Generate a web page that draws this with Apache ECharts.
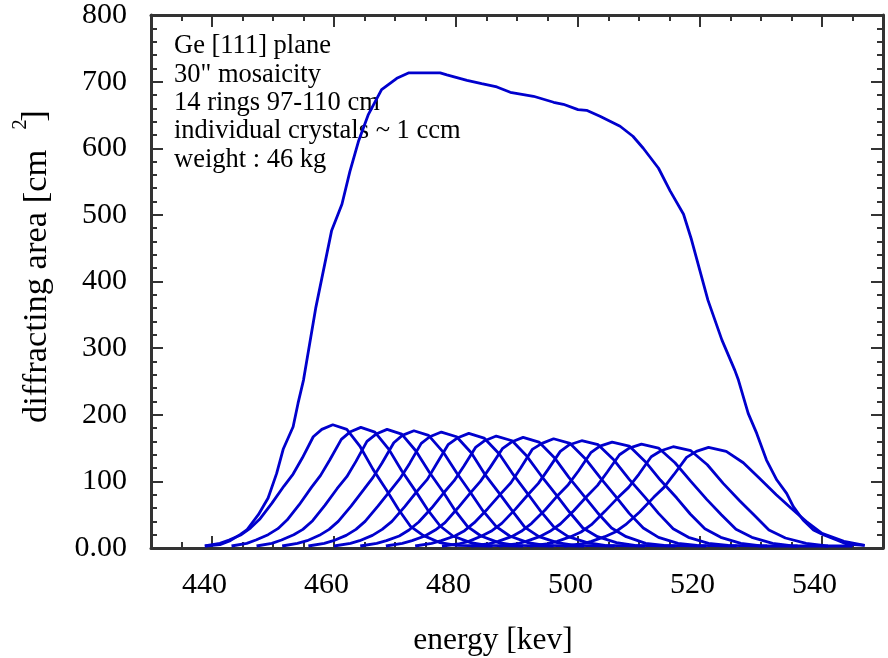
<!DOCTYPE html>
<html>
<head>
<meta charset="utf-8">
<script src="https://cdn.jsdelivr.net/npm/echarts@6/dist/echarts.min.js"></script>
<style>
html,body{margin:0;padding:0;background:#fff;}
#chart{width:888px;height:658px;}
</style>
</head>
<body>
<div id="chart"></div>
<script>
// ---- data: [energy keV, diffracting area cm^2] ----
const totalCurve = [[438.9,3],[441.3,5],[443.0,11],[444.6,20],[445.7,27],[447.6,50],[449.2,75],[450.6,112],[451.7,149],[453.3,182],[454.1,217],[455.0,252],[457.0,360],[459.6,476],[461.3,516],[462.6,565],[464.0,610],[465.6,650],[467.8,688],[470.3,705],[472.2,713],[477.4,713],[478.5,710],[481.8,702],[484.2,697],[486.7,692],[488.9,684],[492.7,678],[496.0,669],[497.6,666],[500.0,658],[501.4,657],[503.6,648],[506.9,633],[509.0,618],[510.7,600],[513.2,570],[515.1,536],[517.3,501],[518.6,463],[521.3,372],[523.6,312],[525.7,267],[526.3,252],[527.9,202],[529.3,172],[530.9,132],[532.6,102],[534.2,82],[535.3,62],[536.9,42],[538.6,27],[540.2,20],[542.4,12],[544.0,6],[545.1,5],[547.0,4]];

const ring01 = [[438.8,3],[441.3,7],[442.8,12],[444.8,20],[446.3,30],[447.8,43],[449.8,67],[451.8,93],[453.3,111],[454.8,135],[456.6,167],[458.0,178],[459.8,185],[462.1,178],[464.3,152],[466.4,118],[468.6,87],[470.5,59],[472.5,33],[474.6,19],[477.4,8],[480.1,4],[486.0,3]];
const ring02 = [[443.2,3],[445.7,7],[447.2,12],[449.2,20],[450.8,29],[452.3,42],[454.3,65],[456.3,91],[457.8,109],[459.3,132],[461.2,163],[462.6,174],[464.4,181],[466.7,174],[469.0,148],[471.1,116],[473.4,85],[475.3,58],[477.4,33],[479.5,18],[482.4,8],[485.1,4],[491.0,3]];
const ring03 = [[447.3,3],[449.8,7],[451.4,12],[453.4,20],[454.9,28],[456.5,41],[458.5,64],[460.5,89],[462.1,107],[463.6,130],[465.4,160],[466.9,171],[468.7,178],[471.1,171],[473.4,146],[475.6,114],[477.9,84],[479.8,57],[481.9,32],[484.1,18],[487.0,8],[489.8,4],[496.0,3]];
const ring04 = [[451.5,3],[454.0,7],[455.6,11],[457.6,19],[459.2,28],[460.7,40],[462.8,63],[464.9,88],[466.4,106],[467.9,128],[469.8,158],[471.2,169],[473.1,176],[475.5,169],[477.9,144],[480.1,113],[482.4,83],[484.4,56],[486.6,32],[488.8,18],[491.8,8],[494.6,4],[501.0,3]];
const ring05 = [[455.8,3],[458.4,7],[459.9,11],[462.0,19],[463.6,28],[465.1,40],[467.2,63],[469.3,87],[470.8,104],[472.4,127],[474.3,157],[475.7,167],[477.6,174],[480.1,167],[482.5,143],[484.7,111],[487.1,82],[489.2,56],[491.3,31],[493.6,17],[496.6,8],[499.5,4],[506.0,3]];
const ring06 = [[460.0,3],[462.7,7],[464.2,11],[466.3,19],[467.9,28],[469.5,40],[471.6,62],[473.7,86],[475.3,103],[476.8,126],[478.7,155],[480.2,165],[482.1,172],[484.6,165],[487.1,141],[489.4,110],[491.8,81],[493.9,55],[496.1,31],[498.4,17],[501.5,8],[504.4,4],[511.0,3]];
const ring07 = [[464.3,3],[467.0,7],[468.6,11],[470.7,18],[472.3,27],[473.9,39],[476.0,60],[478.1,84],[479.7,101],[481.3,123],[483.2,151],[484.7,161],[486.6,168],[489.2,161],[491.6,138],[494.0,108],[496.5,79],[498.6,54],[500.8,30],[503.2,17],[506.3,8],[509.3,4],[516.0,3]];
const ring08 = [[468.5,3],[471.2,7],[472.8,11],[474.9,18],[476.6,27],[478.2,38],[480.3,60],[482.4,83],[484.0,100],[485.6,121],[487.6,149],[489.1,159],[491.0,166],[493.6,159],[496.1,136],[498.5,106],[501.0,78],[503.2,53],[505.5,30],[507.9,17],[511.1,7],[514.1,4],[521.0,3]];
const ring09 = [[473.3,3],[476.0,7],[477.6,11],[479.8,18],[481.4,26],[483.0,38],[485.2,59],[487.4,82],[489.0,98],[490.6,120],[492.5,148],[494.1,157],[496.0,164],[498.7,157],[501.2,134],[503.7,105],[506.2,77],[508.4,52],[510.7,30],[513.2,16],[516.4,7],[519.5,4],[526.0,3]];
const ring10 = [[477.7,3],[480.4,6],[482.1,10],[484.2,18],[485.9,26],[487.5,37],[489.7,58],[491.9,81],[493.5,97],[495.1,118],[497.1,145],[498.6,155],[500.6,161],[503.3,155],[505.9,132],[508.4,103],[511.0,76],[513.2,52],[515.6,29],[518.1,16],[521.4,7],[524.6,4],[531.0,3]];
const ring11 = [[482.5,3],[485.2,6],[486.9,10],[489.1,17],[490.7,25],[492.4,37],[494.6,57],[496.8,80],[498.4,95],[500.1,116],[502.1,143],[503.6,153],[505.6,159],[508.4,153],[511.0,130],[513.5,102],[516.2,75],[518.4,51],[520.8,29],[523.4,16],[526.7,7],[530.0,3],[536.0,3]];
const ring12 = [[487.1,3],[489.9,6],[491.5,10],[493.7,17],[495.4,25],[497.1,36],[499.3,56],[501.5,78],[503.2,94],[504.8,114],[506.8,140],[508.4,150],[510.4,156],[513.2,150],[515.9,128],[518.5,100],[521.1,73],[523.5,50],[525.9,28],[528.5,16],[531.9,7],[535.2,3],[541.0,3]];
const ring13 = [[492.1,3],[494.9,6],[496.6,10],[498.8,17],[500.5,24],[502.2,35],[504.4,55],[506.6,76],[508.3,91],[510.0,111],[512.0,137],[513.6,146],[515.6,152],[518.5,146],[521.2,125],[523.8,97],[526.5,71],[528.9,49],[531.3,27],[534.0,15],[537.4,7],[540.8,3],[545.0,3]];
const ring14 = [[497.7,3],[500.5,6],[502.2,10],[504.4,17],[506.1,24],[507.8,35],[510.1,54],[512.4,76],[514.1,91],[515.7,110],[517.8,136],[519.4,145],[521.4,151],[524.3,145],[527.1,128],[529.7,105],[532.5,80],[534.9,60],[537.4,40],[540.0,22],[543.6,10],[547.0,4]];

const rings = [ring01, ring02, ring03, ring04, ring05, ring06, ring07, ring08, ring09, ring10, ring11, ring12, ring13, ring14];
const xMajorTicks = [440, 460, 480, 500, 520, 540];
const yZeroLabel = '0.00';
const noteLines = ['Ge [111] plane', '30" mosaicity', '14 rings 97-110 cm', 'individual crystals ~ 1 ccm', 'weight : 46 kg'];

const FONT = '"Liberation Serif", "Times New Roman", serif';
const AX = '#333333';
const BLUE = '#0000cd';

const chart = echarts.init(document.getElementById('chart'), null, {renderer: 'canvas'});

// x axes: major ticks (custom values) + minor ticks (every 5 keV) on bottom and top
function xMajor(pos, showLabel) {
  return {
    type: 'value', position: pos, min: 430, max: 550, interval: 5,
    axisLine: {show: true, onZero: false, lineStyle: {color: AX, width: 3}},
    axisTick: {show: true, inside: true, length: 12, customValues: xMajorTicks, lineStyle: {color: AX, width: 2}},
    axisLabel: {show: showLabel, customValues: xMajorTicks, fontFamily: FONT, fontSize: 30, color: '#000', margin: 22, padding: [0, 15, 0, 0]},
    splitLine: {show: false}
  };
}
function xMinor(pos) {
  return {
    type: 'value', position: pos, min: 430, max: 550, interval: 5,
    axisLine: {show: false, onZero: false},
    axisTick: {show: true, inside: true, length: 6, lineStyle: {color: AX, width: 2}},
    axisLabel: {show: false},
    splitLine: {show: false}
  };
}
function yAx(pos, showLabel) {
  return {
    type: 'value', position: pos, min: 0, max: 800, interval: 100,
    axisLine: {show: true, onZero: false, lineStyle: {color: AX, width: 3}},
    axisTick: {show: true, inside: true, length: 12, lineStyle: {color: AX, width: 2}},
    minorTick: {show: true, splitNumber: 5, length: 6, lineStyle: {color: AX, width: 2}},
    splitLine: {show: false}, minorSplitLine: {show: false},
    axisLabel: {show: showLabel, fontFamily: FONT, fontSize: 30, color: '#000', margin: 24,
      formatter: function (v) { return v === 0 ? yZeroLabel : String(v); }}
  };
}

const series = [];
series.push({type: 'line', data: totalCurve, showSymbol: false, symbol: 'none',
  lineStyle: {color: BLUE, width: 2.8}, xAxisIndex: 0, yAxisIndex: 0, z: 3});
rings.forEach(function (r) {
  series.push({type: 'line', data: r, showSymbol: false, symbol: 'none',
    lineStyle: {color: BLUE, width: 2.8}, xAxisIndex: 0, yAxisIndex: 0, z: 3});
});

const graphics = [];
const noteY = [46.5, 74.8, 103.1, 131.4, 159.7];
noteLines.forEach(function (t, i) {
  graphics.push({type: 'text', x: 174, y: noteY[i], style: {text: t, font: '26.5px ' + FONT, fill: '#000', textAlign: 'left', textVerticalAlign: 'middle', verticalAlign: 'middle'}});
});
graphics.push({type: 'text', x: 493, y: 641, style: {text: 'energy [kev]', font: '31.5px ' + FONT, fill: '#000', textAlign: 'center', textVerticalAlign: 'middle', verticalAlign: 'middle'}});
graphics.push({type: 'text', x: 37, y: 423, rotation: Math.PI / 2, style: {text: 'diffracting area [cm', font: '34.5px ' + FONT, fill: '#000', textAlign: 'left', textVerticalAlign: 'middle', verticalAlign: 'middle'}});
graphics.push({type: 'text', x: 20, y: 124.5, rotation: Math.PI / 2, style: {text: '2', font: '21px ' + FONT, fill: '#000', textAlign: 'center', textVerticalAlign: 'middle', verticalAlign: 'middle'}});
graphics.push({type: 'text', x: 35, y: 116, rotation: Math.PI / 2, style: {text: ']', font: '34.5px ' + FONT, fill: '#000', textAlign: 'center', textVerticalAlign: 'middle', verticalAlign: 'middle'}});

chart.setOption({
  animation: false,
  backgroundColor: '#fff',
  grid: {left: 151, right: 5, top: 13, bottom: 110, containLabel: false},
  xAxis: [xMajor('bottom', true), xMajor('top', false), xMinor('bottom'), xMinor('top')],
  yAxis: [yAx('left', true), yAx('right', false)],
  series: series,
  graphic: graphics
});
</script>
</body>
</html>
